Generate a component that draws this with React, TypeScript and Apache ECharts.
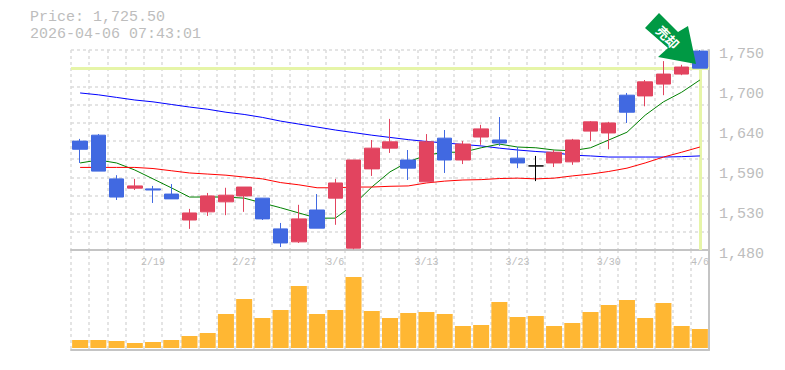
import React, { useEffect, useRef } from "react";
import * as echarts from "echarts";

const dates = ["2/13","2/16","2/17","2/18","2/19","2/20","2/24","2/25","2/26","2/27","3/2","3/3","3/4","3/5","3/6","3/9","3/10","3/11","3/12","3/13","3/16","3/17","3/18","3/19","3/23","3/24","3/25","3/26","3/27","3/30","3/31","4/1","4/2","4/3","4/6"];
// open, close, low, high
const candles = [
  [1627,1616,1597.5,1630],[1635,1586.5,1586.5,1636.5],[1576,1551.5,1547.5,1581],[1563.5,1566.5,1561,1576],[1562.5,1561,1543.5,1566.5],
  [1555.5,1549,1549,1569],[1520.5,1530,1508.5,1535.5],[1531.5,1553,1526,1557],[1545,1554,1527,1564],[1553,1565,1531.5,1565],
  [1550,1522,1520.5,1550],[1508.5,1489.5,1484,1516.5],[1491,1522,1489.5,1541],[1534,1509.5,1509.5,1555.5],[1550,1570.5,1514,1576],
  [1482.5,1601.5,1481,1601.5],[1589.5,1617.5,1580,1628.5],[1617.5,1626,1611,1657],[1601.5,1590.5,1574.5,1615],[1572,1626,1572,1636.5],
  [1631,1601.5,1584,1642],[1601.5,1623,1596,1627],[1632.5,1643.5,1622,1649],[1628.5,1624.5,1620.5,1659.5],[1604,1597.5,1590.5,1619],
  [1593.5,1593.5,1573,1607],[1597.5,1612,1592,1615],[1599,1628.5,1595,1630],[1640.5,1653,1627,1654],[1638,1651.5,1616,1653],
  [1689,1666,1651.5,1692],[1688,1707,1674,1709.5],[1704,1717.5,1689,1735],[1717.5,1727,1716,1730],[1748.5,1725.5,1725.5,1750],
];
const maShort = [1597.5,1601.5,1597.5,1588,1576,1564,1551.5,1551.5,1551.5,1550,1543.5,1537,1530,1523,1523,1541,1565,1585.5,1599,1608,1612,1612,1618,1623,1619,1618,1615,1614,1618,1628.5,1639,1662,1680,1693,1709.5];
const maMid = [1591.5,1591.5,1591.5,1591.5,1590,1587,1584,1582.5,1581,1578.5,1576,1571,1568,1564,1564,1565,1565,1566,1566.5,1570.5,1573,1574.5,1575,1576.5,1577,1576,1577,1580,1582.5,1586,1590.5,1597.5,1605.5,1612,1619];
const maLong = [1692,1689.5,1686,1682.5,1680,1676.5,1673,1670,1666,1663,1659,1654,1650,1646,1642,1638.5,1635,1632,1629,1626.5,1624.5,1622.5,1620.5,1617.5,1615,1613,1611.5,1608,1607,1605.5,1605.5,1605.5,1605.5,1606,1607];
const volumes = [8,8,7,5,6,8,12,15,34,49,30,38,62,34,38,71,37,30,35,36,34,22,23,46,31,32,22,25,36,43,48,30,45,22,19];
const labelTicks = [1480,1534,1588,1642,1696,1750];
const gridTicks = [1480,1504.5,1529.1,1553.6,1578.2,1602.7,1627.3,1651.8,1676.4,1700.9,1725.5,1750];
const lastPrice = 1725.5;
const priceLine = "Price: 1,725.50";
const timeLine = "2026-04-06 07:43:01";
const signal = "売却";

const GRAY = "#bdbdbd";
const MONO = "'Liberation Mono', monospace";
const dashed = { show: true, lineStyle: { color: "#dcdcdc", type: [3, 3] as any, width: 1.5 } };
const solid = { show: true, onZero: false, lineStyle: { color: "#c4c4c4", width: 2 } };

function fmt(v: number) {
  return (Math.round(v / 10) * 10).toLocaleString("en-US");
}

export default function App() {
  const ref = useRef<HTMLDivElement>(null);
  useEffect(() => {
    const chart = echarts.init(ref.current!, undefined, { renderer: "svg" });
    const titleStyle = { fontFamily: MONO, fontSize: 15, fontWeight: "normal", color: GRAY, lineHeight: 15 };
    chart.setOption({
      animation: false,
      backgroundColor: "#fff",
      title: [
        { text: priceLine, left: 30, top: 10, padding: 0, textStyle: titleStyle },
        { text: timeLine, left: 30, top: 27, padding: 0, textStyle: titleStyle },
      ],
      grid: [
        { left: 71, width: 638, top: 50, height: 200 },
        { left: 71, width: 638, top: 250, height: 100 },
      ],
      xAxis: [
        { type: "category", gridIndex: 0, data: dates, axisLine: solid, axisTick: { show: false }, axisLabel: { show: false }, splitLine: { ...dashed, interval: 0 } },
        {
          type: "category", gridIndex: 1, data: dates, position: "top", axisLine: { show: false }, axisTick: { show: false },
          axisLabel: { inside: true, margin: 7, interval: (i: number) => i % 5 === 4, color: GRAY, fontFamily: MONO, fontSize: 10 },
          splitLine: { ...dashed, interval: 0 },
        },
        { type: "category", gridIndex: 1, data: dates, position: "bottom", axisLine: solid, axisTick: { show: false }, axisLabel: { show: false }, splitLine: { show: false } },
      ],
      yAxis: [
        {
          type: "value", gridIndex: 0, position: "right", min: 1480, max: 1750, axisLine: solid,
          axisTick: { show: false, customValues: gridTicks },
          axisLabel: { customValues: labelTicks, formatter: fmt, color: GRAY, fontFamily: MONO, fontSize: 15, margin: 10, verticalAlign: "top", lineHeight: 8 },
          splitLine: dashed,
        },
        { type: "value", gridIndex: 1, position: "right", min: -2, max: 98, axisLine: solid, axisTick: { show: false }, axisLabel: { show: false }, splitLine: { show: false } },
      ],
      series: [
        {
          type: "line", data: maLong, symbol: "none", z: 2, lineStyle: { color: "#0000ff", width: 1 },
          markLine: {
            silent: true, symbol: "none", z: 1, label: { show: false }, animation: false,
            lineStyle: { color: "#e6f5a8", width: 3, type: "solid" },
            data: [{ yAxis: lastPrice }, [{ coord: ["4/6", lastPrice] }, { coord: ["4/6", 1480] }]],
          },
        },
        { type: "line", data: maShort, symbol: "none", z: 2, lineStyle: { color: "#008000", width: 1 } },
        { type: "line", data: maMid, symbol: "none", z: 2, lineStyle: { color: "#ff0000", width: 1 } },
        {
          type: "candlestick", z: 3, barWidth: 15,
          data: candles.map((c) => (c[0] === c[1]
            ? { value: c, itemStyle: { color: "#000", borderColor: "#000", color0: "#000", borderColor0: "#000", borderColorDoji: "#000" } }
            : c)),
          itemStyle: { color: "#e2445f", color0: "#4169e1", borderColor: "#e2445f", borderColor0: "#4169e1", borderWidth: 1 },
        },
        { type: "bar", xAxisIndex: 1, yAxisIndex: 1, data: volumes, barWidth: 16, itemStyle: { color: "#ffb733" } },
      ],
      graphic: [
        {
          type: "polygon", z: 100,
          shape: { points: [[659, 13], [678, 32], [688, 26], [696, 64], [658, 57], [668, 48], [645, 28]] },
          style: { fill: "#009944" },
        },
        {
          type: "text", z: 101, x: 668, y: 37, rotation: -Math.PI / 4,
          style: { text: signal, fill: "#fff", fontFamily: "'Noto Sans CJK JP'", fontSize: 13, fontWeight: "bold", align: "center", verticalAlign: "middle" },
        },
      ],
    });
    return () => chart.dispose();
  }, []);
  return <div ref={ref} style={{ position: "absolute", left: 0, top: 0, width: 785, height: 370 }} />;
}
